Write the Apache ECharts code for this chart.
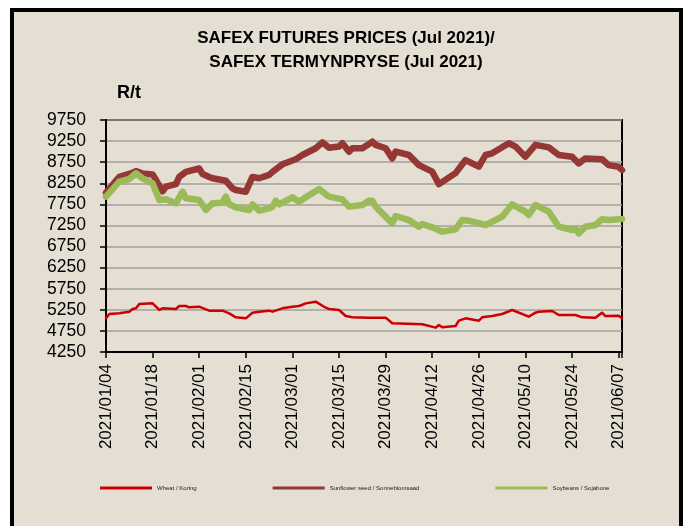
<!DOCTYPE html>
<html><head><meta charset="utf-8">
<script src="https://cdn.jsdelivr.net/npm/echarts@6/dist/echarts.min.js"></script>
<style>
html,body{margin:0;padding:0;background:#fff;}
#frame{position:absolute;left:10px;top:8px;width:665px;height:600px;border:4px solid #000;background:#e4ded3;}
#chart{position:absolute;left:0;top:0;width:686px;height:526px;}
</style></head><body>
<div id="frame"></div><div id="chart"></div>
<script>
// ---- Data ----
const titleLines = ['SAFEX FUTURES PRICES (Jul 2021)/', 'SAFEX TERMYNPRYSE (Jul 2021)'];
const unitLabel = 'R/t';
const seriesNames = ['Wheat / Koring', 'Sunflower seed / Sonneblomsaad', 'Soybeans / Sojabone'];
const startDate = '2021-01-04';
const endDate = '2021-06-08';
const tickStepDays = 14;
const yMin = 4250, yMax = 9750, yStep = 500;

const wheatDates = ['01-04','01-05','01-08','01-11','01-12','01-13','01-14','01-18','01-20','01-21','01-25','01-26','01-28','01-29','02-01','02-03','02-04','02-08','02-10','02-12','02-15','02-17','02-19','02-22','02-23','02-26','03-01','03-03','03-05','03-08','03-11','03-12','03-15','03-17','03-19','03-24','03-29','03-31','04-09','04-13','04-14','04-15','04-19','04-20','04-22','04-26','04-27','04-30','05-03','05-06','05-11','05-13','05-14','05-18','05-20','05-25','05-27','05-31','06-02','06-03','06-07','06-08'];
const wheatValues = [5048,5151,5167,5206,5269,5285,5388,5403,5246,5285,5269,5340,5340,5309,5325,5261,5230,5230,5167,5072,5048,5182,5206,5230,5206,5285,5325,5340,5403,5443,5300,5269,5246,5103,5072,5064,5064,4930,4906,4827,4890,4835,4866,4993,5048,4993,5072,5103,5151,5246,5088,5182,5206,5222,5127,5127,5072,5064,5182,5103,5111,5048];

const sunflowerDates = ['01-04','01-08','01-12','01-13','01-15','01-18','01-19','01-21','01-22','01-25','01-26','01-28','02-01','02-02','02-04','02-05','02-09','02-11','02-12','02-15','02-17','02-19','02-22','02-23','02-25','02-26','03-02','03-04','03-08','03-10','03-12','03-15','03-16','03-18','03-19','03-22','03-24','03-25','03-26','03-29','03-31','04-01','04-05','04-08','04-12','04-14','04-19','04-22','04-26','04-28','04-30','05-05','05-07','05-10','05-13','05-17','05-20','05-24','05-26','05-28','06-02','06-04','06-07','06-08'];
const sunflowerValues = [8030,8400,8500,8540,8480,8460,8330,8060,8170,8230,8400,8520,8600,8470,8400,8370,8310,8130,8090,8050,8400,8370,8450,8520,8640,8700,8820,8920,9080,9220,9090,9120,9200,9000,9080,9080,9180,9236,9160,9080,8840,9000,8920,8680,8525,8230,8490,8800,8644,8920,8960,9200,9120,8880,9160,9100,8920,8880,8720,8840,8820,8680,8640,8565];

const soyDates = ['01-04','01-08','01-11','01-13','01-15','01-18','01-20','01-22','01-25','01-27','01-28','02-01','02-03','02-05','02-08','02-09','02-10','02-12','02-16','02-17','02-19','02-22','02-23','02-24','02-25','03-01','03-03','03-05','03-09','03-11','03-12','03-16','03-18','03-22','03-24','03-25','03-26','03-31','04-01','04-05','04-08','04-09','04-12','04-15','04-19','04-21','04-23','04-28','05-03','05-06','05-10','05-11','05-13','05-17','05-20','05-24','05-25','05-26','05-28','05-31','06-02','06-04','06-08'];
const soyValues = [7933,8288,8351,8486,8367,8249,7853,7869,7774,8051,7893,7853,7616,7774,7790,7933,7751,7680,7616,7751,7601,7656,7696,7838,7751,7917,7814,7917,8114,7988,7933,7869,7696,7735,7838,7838,7696,7300,7474,7379,7221,7284,7205,7103,7158,7379,7364,7261,7458,7751,7577,7498,7735,7577,7221,7142,7182,7063,7221,7261,7395,7379,7400];

const seriesColors = ['#cc0000', '#953735', '#9bbb59'];

// ---- Helpers ----
const DAY = 86400000;
const t0 = Date.parse(startDate + 'T00:00:00Z');
const dayIndex = md => Math.round((Date.parse('2021-' + md + 'T00:00:00Z') - t0) / DAY);
const maxDay = Math.round((Date.parse(endDate + 'T00:00:00Z') - t0) / DAY);
const fmtDay = d => {
  const dt = new Date(t0 + d * DAY);
  const p = n => String(n).padStart(2, '0');
  return dt.getUTCFullYear() + '/' + p(dt.getUTCMonth() + 1) + '/' + p(dt.getUTCDate());
};
const pts = (ds, vs) => ds.map((d, i) => [dayIndex(d), vs[i]]);

const regular = '"Liberation Sans", Arial, sans-serif';

const chart = echarts.init(document.getElementById('chart'), null, {renderer: 'canvas'});
chart.setOption({
  backgroundColor: 'transparent',
  animation: false,
  graphic: [
    {type: 'text', x: 346, y: 30, style: {text: titleLines[0], textAlign: 'center', textVerticalAlign: 'top', font: 'bold 17px ' + regular, fill: '#000'}},
    {type: 'text', x: 346, y: 54, style: {text: titleLines[1], textAlign: 'center', textVerticalAlign: 'top', font: 'bold 17px ' + regular, fill: '#000'}},
    {type: 'text', x: 117, y: 84, style: {text: unitLabel, textAlign: 'left', textVerticalAlign: 'top', font: 'bold 18px ' + regular, fill: '#000'}}
  ],
  grid: {left: 106, right: 64, top: 120, bottom: 174, show: true, borderColor: '#000', borderWidth: 2, backgroundColor: 'transparent', outerBoundsMode: 'none'},
  legend: {
    left: 95, top: 480, icon: 'rect', itemWidth: 52, itemHeight: 3, itemGap: 76,
    textStyle: {fontSize: 6, fontFamily: regular, color: '#222'},
    data: seriesNames
  },
  xAxis: {
    type: 'value', min: 0, max: maxDay, interval: tickStepDays,
    axisLine: {show: true, lineStyle: {color: '#000', width: 2}},
    axisTick: {show: true, length: 6, lineStyle: {color: '#000', width: 1.5}},
    axisLabel: {rotate: 90, margin: 12, fontSize: 17, fontFamily: regular, color: '#000',
      formatter: v => (v % tickStepDays === 0 ? fmtDay(v) : '')},
    splitLine: {show: false}
  },
  yAxis: {
    type: 'value', min: yMin, max: yMax, interval: yStep,
    axisLine: {show: true, lineStyle: {color: '#000', width: 2}},
    axisTick: {show: true, length: 6, lineStyle: {color: '#000', width: 1.5}},
    axisLabel: {margin: 20, fontSize: 17.5, fontFamily: regular, color: '#000', formatter: v => String(v)},
    splitLine: {show: true, lineStyle: {color: '#a3a19d', width: 1.5}}
  },
  series: [
    {name: seriesNames[0], type: 'line', data: pts(wheatDates, wheatValues), color: seriesColors[0], showSymbol: false, symbol: 'none',
      lineStyle: {width: 2.5, color: seriesColors[0], join: 'round', cap: 'round'}, z: 3},
    {name: seriesNames[1], type: 'line', data: pts(sunflowerDates, sunflowerValues), color: seriesColors[1], showSymbol: false, symbol: 'none',
      lineStyle: {width: 6.5, color: seriesColors[1], join: 'round', cap: 'round'}, z: 4},
    {name: seriesNames[2], type: 'line', data: pts(soyDates, soyValues), color: seriesColors[2], showSymbol: false, symbol: 'none',
      lineStyle: {width: 6.5, color: seriesColors[2], join: 'round', cap: 'round'}, z: 5}
  ]
});
</script></body></html>
